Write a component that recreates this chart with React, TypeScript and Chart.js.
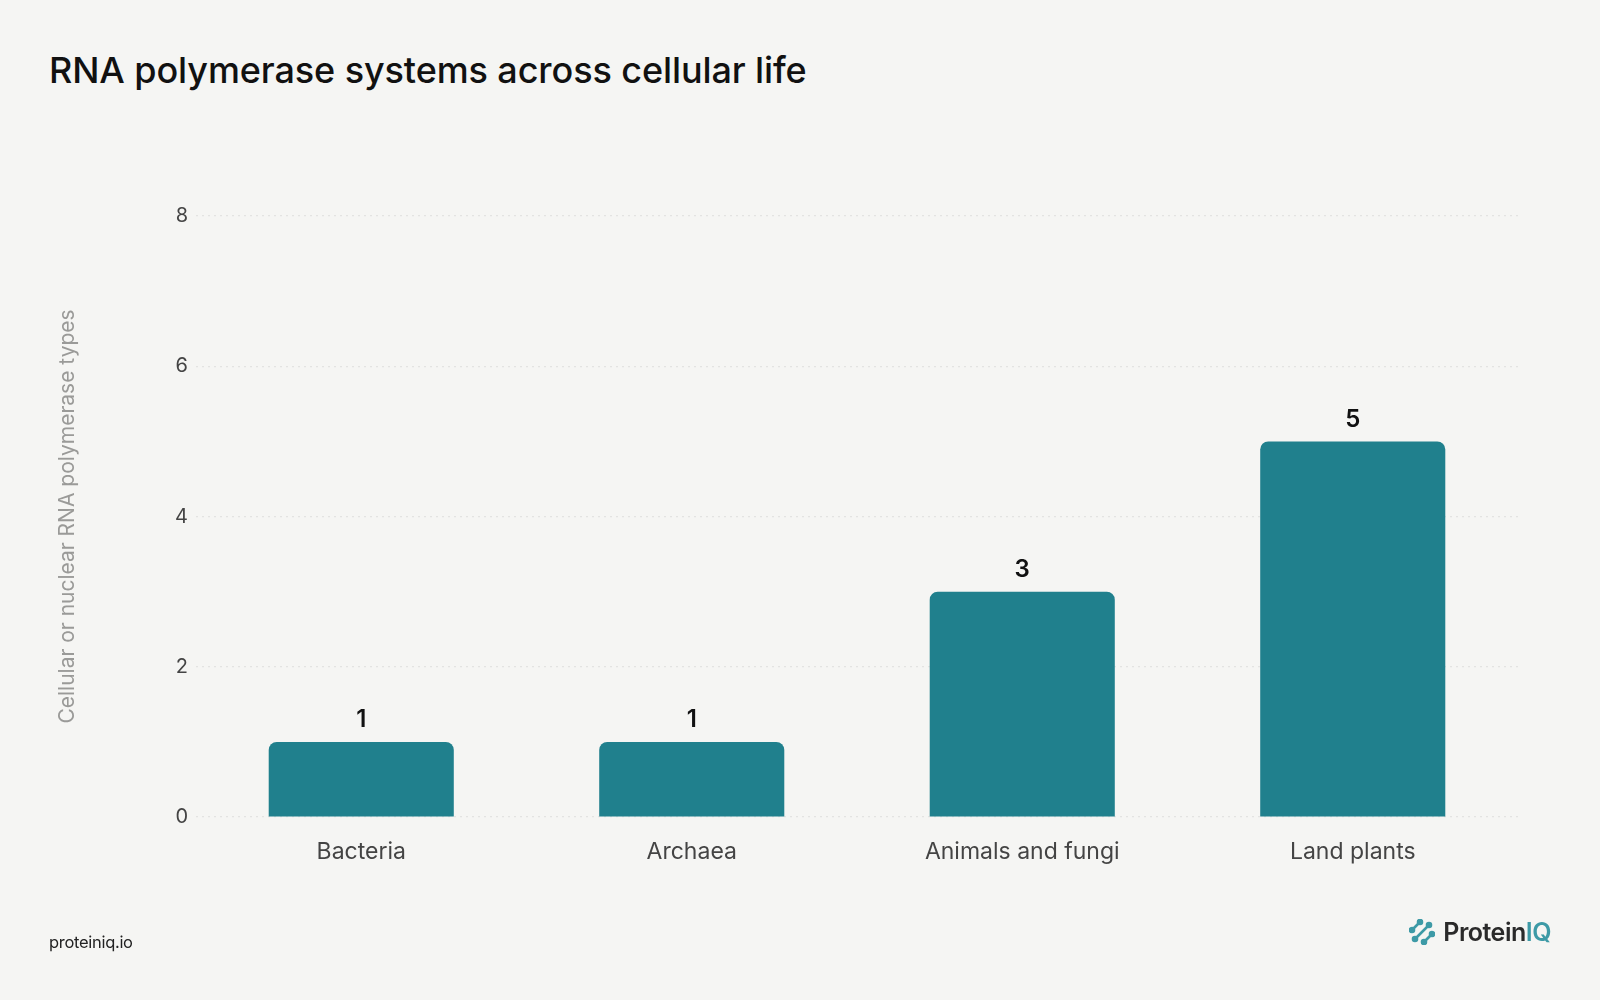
import { useEffect, useRef } from 'react';
import { Chart, registerables } from 'chart.js';
import type { Plugin } from 'chart.js';

Chart.register(...registerables);

const categories = ['Bacteria', 'Archaea', 'Animals and fungi', 'Land plants'];
const polymeraseTypes = [1, 1, 3, 5];
const yTicks = [0, 2, 4, 6, 8];

const BAR_COLOR = '#20808d';
const FONT = 'Inter, "Noto Sans", sans-serif';

// value labels drawn above each bar
const barLabels: Plugin<'bar'> = {
  id: 'barLabels',
  afterDatasetsDraw(chart) {
    const { ctx } = chart;
    const meta = chart.getDatasetMeta(0);
    ctx.save();
    ctx.font = `600 24px ${FONT}`;
    ctx.fillStyle = '#111111';
    ctx.textAlign = 'center';
    ctx.textBaseline = 'middle';
    meta.data.forEach((bar, i) => {
      ctx.fillText(String(polymeraseTypes[i]), bar.x, bar.y - 22);
    });
    ctx.restore();
  },
};

function Logo() {
  return (
    <div
      style={{
        position: 'absolute',
        right: 49,
        top: 917,
        display: 'flex',
        alignItems: 'center',
        gap: 8,
        fontFamily: FONT,
        fontWeight: 600,
        fontSize: 25,
        letterSpacing: -0.5,
      }}
    >
      <svg width="26" height="26" viewBox="0 0 26 26">
        <g stroke="#3d9aa6" strokeWidth="2.6" strokeLinecap="round" fill="#3d9aa6">
          <line x1="3" y1="11" x2="11" y2="3" />
          <line x1="6" y1="20" x2="20" y2="6" />
          <line x1="15" y1="23" x2="23" y2="15" />
          <circle cx="3" cy="11" r="2" />
          <circle cx="11" cy="3" r="2" />
          <circle cx="6" cy="20" r="2" />
          <circle cx="20" cy="6" r="2" />
          <circle cx="15" cy="23" r="2" />
          <circle cx="23" cy="15" r="2" />
        </g>
      </svg>
      <span style={{ color: '#2a2a2a' }}>
        Protein<span style={{ color: '#3d9aa6' }}>IQ</span>
      </span>
    </div>
  );
}

export default function App() {
  const chartRef = useRef<HTMLCanvasElement>(null);
  const chartInstance = useRef<Chart | null>(null);

  useEffect(() => {
    document.body.style.margin = '0';
    if (!chartRef.current) return;
    if (chartInstance.current) chartInstance.current.destroy();

    chartInstance.current = new Chart(chartRef.current, {
      type: 'bar',
      data: {
        labels: categories,
        datasets: [
          {
            label: 'RNA polymerase types',
            data: polymeraseTypes,
            backgroundColor: BAR_COLOR,
            borderRadius: { topLeft: 8, topRight: 8, bottomLeft: 0, bottomRight: 0 },
            borderSkipped: false,
            categoryPercentage: 0.8,
            barPercentage: 0.7,
          },
        ],
      },
      options: {
        animation: false,
        responsive: false,
        maintainAspectRatio: false,
        layout: { padding: { top: 216, left: 55, right: 82, bottom: 123 } },
        plugins: {
          legend: { display: false },
          tooltip: { enabled: false },
        },
        scales: {
          x: {
            grid: { display: false, drawTicks: false },
            border: { display: false },
            ticks: {
              color: '#444444',
              font: { family: FONT, size: 23 },
              padding: 21,
            },
            afterFit(scale) {
              scale.height = 60;
            },
          },
          y: {
            min: 0,
            max: 8,
            afterBuildTicks(scale) {
              scale.ticks = yTicks.map((v) => ({ value: v }));
            },
            grid: {
              color: '#e3e3e1',
              lineWidth: 1.2,
              drawTicks: false,
            },
            border: { display: false, dash: [2, 4] },
            ticks: {
              color: '#444444',
              font: { family: FONT, size: 20 },
              padding: 8,
            },
            title: {
              display: true,
              text: 'Cellular or nuclear RNA polymerase types',
              color: '#9a9a98',
              font: { family: FONT, size: 21 },
              padding: { top: 0, bottom: 0 },
            },
            afterFit(scale) {
              scale.width = 141;
            },
          },
        },
      },
      plugins: [barLabels],
    });

    return () => {
      if (chartInstance.current) {
        chartInstance.current.destroy();
        chartInstance.current = null;
      }
    };
  }, []);

  return (
    <div
      style={{
        position: 'relative',
        width: 1600,
        height: 1000,
        background: '#f5f5f3',
        overflow: 'hidden',
      }}
    >
      <div
        style={{
          position: 'absolute',
          left: 49,
          top: 48,
          fontFamily: FONT,
          fontWeight: 500,
          fontSize: 36,
          letterSpacing: -0.1,
          color: '#111111',
        }}
      >
        RNA polymerase systems across cellular life
      </div>
      <canvas
        ref={chartRef}
        width={1600}
        height={1000}
        style={{ position: 'absolute', left: 0, top: 0, width: 1600, height: 1000 }}
      />
      <div
        style={{
          position: 'absolute',
          left: 49,
          top: 932,
          fontFamily: FONT,
          fontSize: 16.5,
          letterSpacing: -0.3,
          color: '#222222',
        }}
      >
        proteiniq.io
      </div>
      <Logo />
    </div>
  );
}
